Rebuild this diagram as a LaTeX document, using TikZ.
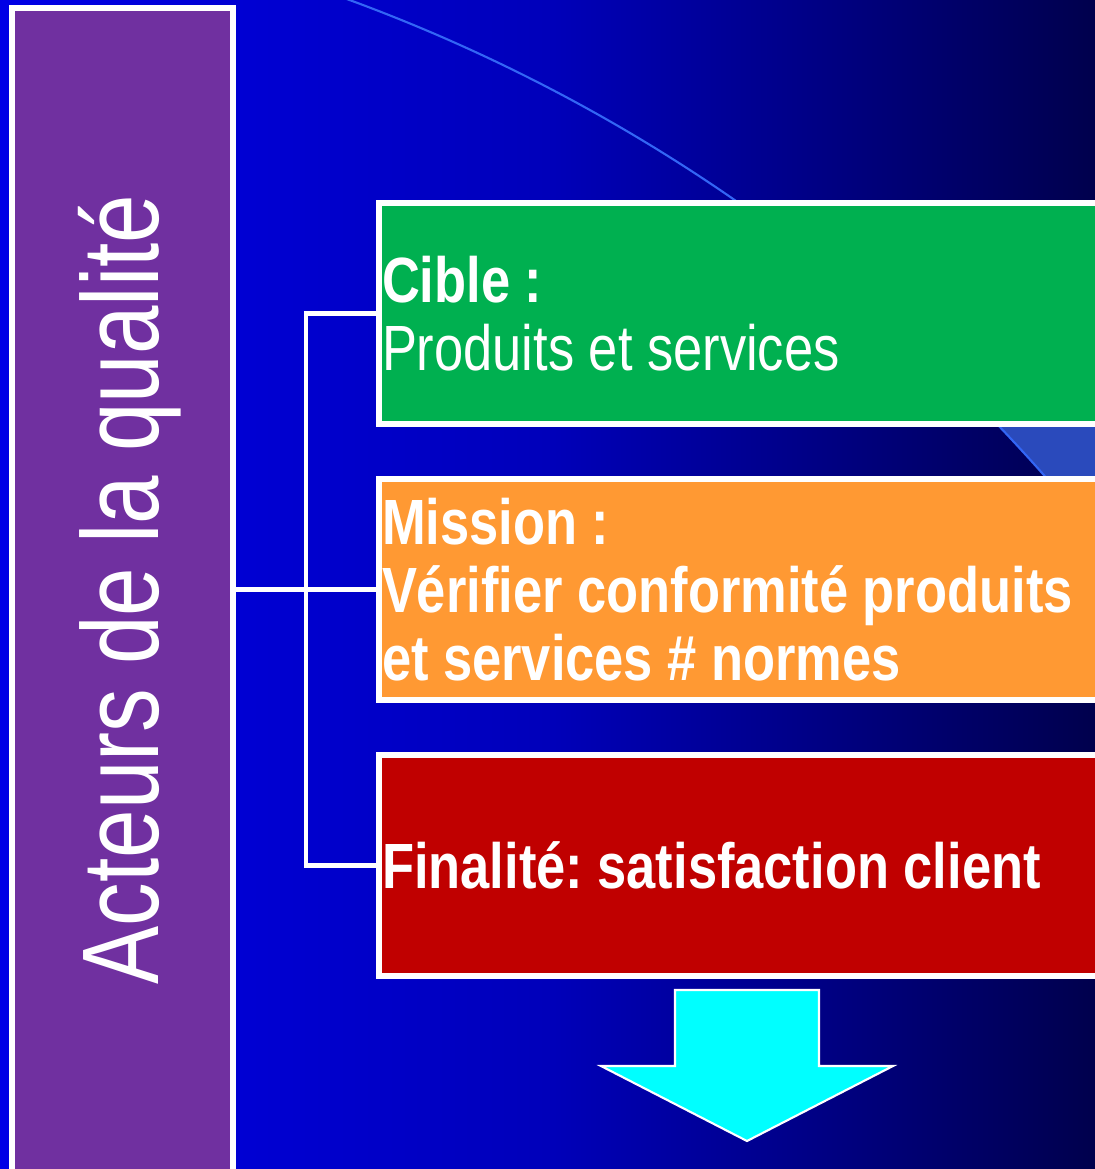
\documentclass[tikz,border=0pt]{standalone}
\usepackage{fontspec}
\setmainfont{Liberation Sans}
\newfontfamily\boxfont[FakeStretch=0.82]{Liberation Sans}
\newfontfamily\titlefont[FakeStretch=0.8]{Liberation Sans}
\usetikzlibrary{positioning}

\definecolor{fondG}{HTML}{0000E6}
\definecolor{fondM}{HTML}{0000BA}
\definecolor{fondD}{HTML}{00004D}
\definecolor{bandeclair}{HTML}{2A4ABC}
\definecolor{arccol}{HTML}{3366F5}
\definecolor{violetq}{HTML}{7030A0}
\definecolor{vertq}{HTML}{00B050}
\definecolor{orangeq}{HTML}{FF9933}
\definecolor{rougeq}{HTML}{C00000}
\definecolor{cyanq}{HTML}{00FFFF}

\tikzset{
  cadre/.style={draw=white,line width=1.6pt,outer sep=0pt,inner xsep=0.03cm,inner ysep=0pt,
    text width=7.5cm,minimum height=2.21cm,align=flush left,text=white,
    font=\boxfont\fontsize{18.2}{19.3}\selectfont\frenchspacing},
}

\begin{document}
\begin{tikzpicture}
        \useasboundingbox (0,0) rectangle (10.95,-11.69);
        \clip (0,0) rectangle (10.95,-11.69);
        \fill[left color=fondG,right color=fondD,middle color=fondM] (0,0) rectangle (10.95,-11.69);
        % bande claire entre cible et mission
        \fill[bandeclair] (9.93,-4.2) -- (11,-4.2) -- (11,-4.82) -- (10.50,-4.82) -- cycle;
        \draw[arccol,line width=0.6pt] (-2.41,-16.08) ++(73:17.13) arc[start angle=73,end angle=35,radius=17.13];
        \begin{scope}
          \node[draw=white,line width=1.6pt,fill=violetq,outer sep=0pt,minimum width=2.21cm,minimum height=12cm,anchor=north west] (acteurs) at (0.12,-0.08) {};
          \node[text=white,font=\titlefont\fontsize{31}{36}\selectfont,rotate=90,anchor=base west,inner sep=0pt] (titre) at (1.58,-9.85) {Acteurs de la qualité};
          \node[cadre,fill=vertq,anchor=north west] (cible) at (3.79,-2.03) {\spaceskip=0pt\xspaceskip=0pt\textbf{Cible :}\\Produits et services};
          \node[cadre,fill=orangeq,below=0.55cm of cible] (mission) {\spaceskip=0pt\xspaceskip=0pt\textbf{Mission :}\\\textbf{Vérifier conformité produits}\\\textbf{et services \# normes}};
          \node[cadre,fill=rougeq,below=0.55cm of mission] (finalite) {\spaceskip=0pt\xspaceskip=0pt\textbf{Finalité: satisfaction client}};
        \end{scope}
        \coordinate (haut) at ([xshift=-0.73cm]cible.west);
        \coordinate (bas) at (haut |- finalite.west);
        \begin{scope}[every edge/.style={draw=white,line width=1.3pt,line cap=rect}]
          \path (cible.west) edge (haut);
          \path (haut) edge (bas);
          \path (bas) edge (finalite.west);
          \path (acteurs.east |- mission.west) edge (mission.west);
        \end{scope}
        \draw[white,line width=0.6pt,fill=cyanq] (6.75,-9.90) -- (8.19,-9.90) -- (8.19,-10.66) -- (8.93,-10.66) -- (7.47,-11.41) -- (6.01,-10.66) -- (6.75,-10.66) -- cycle;
      \end{tikzpicture}
\end{document}
